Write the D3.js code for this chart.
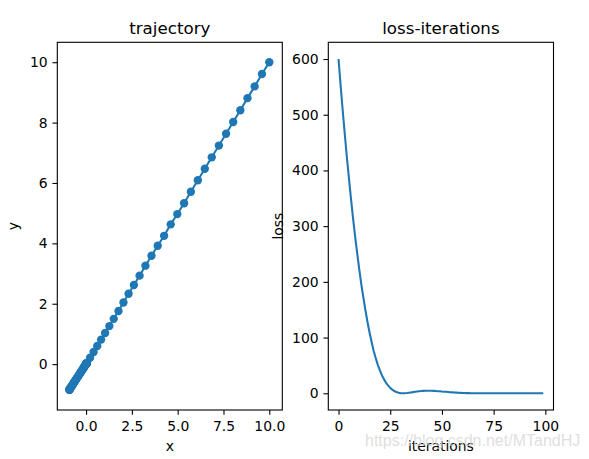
<!DOCTYPE html>
<html>
<head>
<meta charset="utf-8">
<script src="https://cdn.jsdelivr.net/npm/d3@7"></script>
<style>
  body { margin: 0; background: #fff; }
  svg { display: block; }
  text { font-family: "DejaVu Sans", sans-serif; }
</style>
</head>
<body>
<svg id="chart" width="589" height="459"></svg>
<script>
// trajectory of (x, y), one point per iteration
const trajX = [10.00, 9.60, 9.20, 8.81, 8.42, 8.03, 7.64, 7.25, 6.86, 6.48,
  6.10, 5.72, 5.35, 4.98, 4.62, 4.26, 3.91, 3.57, 3.24, 2.92,
  2.61, 2.32, 2.04, 1.77, 1.51, 1.27, 1.04, 0.82, 0.61, 0.41,
  0.22, 0.04, -0.13, -0.28, -0.41, -0.52, -0.62, -0.70, -0.76, -0.81,
  -0.85, -0.88, -0.90, -0.91, -0.91, -0.90, -0.88, -0.86, -0.83, -0.80,
  -0.76, -0.72, -0.68, -0.64, -0.59, -0.55, -0.50, -0.46, -0.41, -0.37,
  -0.33, -0.29, -0.25, -0.21, -0.18, -0.15, -0.12, -0.09, -0.07, -0.05,
  -0.03, -0.02, -0.01, 0.00, 0.01, 0.01, 0.02, 0.02, 0.02, 0.02,
  0.02, 0.02, 0.01, 0.01, 0.01, 0.01, 0.00, 0.00, 0.00, 0.00,
  0.00, 0.00, 0.00, 0.00, 0.00, 0.00, 0.00, 0.00, 0.00, 0.00];
const trajY = [10.00, 9.61, 9.20, 8.81, 8.41, 8.02, 7.63, 7.24, 6.85, 6.47,
  6.09, 5.71, 5.33, 4.97, 4.63, 4.25, 3.92, 3.59, 3.26, 2.93,
  2.62, 2.33, 2.04, 1.76, 1.50, 1.26, 1.03, 0.81, 0.60, 0.40,
  0.21, 0.04, -0.12, -0.26, -0.38, -0.48, -0.57, -0.65, -0.71, -0.76,
  -0.79, -0.82, -0.84, -0.85, -0.85, -0.84, -0.82, -0.80, -0.77, -0.74,
  -0.71, -0.67, -0.63, -0.59, -0.55, -0.51, -0.47, -0.43, -0.38, -0.34,
  -0.31, -0.27, -0.23, -0.20, -0.17, -0.14, -0.11, -0.08, -0.06, -0.04,
  -0.03, -0.02, -0.01, 0.00, 0.01, 0.01, 0.02, 0.02, 0.02, 0.01,
  0.01, 0.01, 0.01, 0.01, 0.01, 0.00, 0.00, 0.00, 0.00, 0.00,
  0.00, 0.00, 0.00, 0.00, 0.00, 0.00, 0.00, 0.00, 0.00, 0.00];

// loss per iteration
const lossValues = [600, 553, 508, 466, 425, 387, 350, 315, 282, 252,
  223, 196, 172, 149, 128, 109, 92, 76, 63, 51,
  41, 32, 25, 18.8, 13.7, 9.7, 6.5, 4.0, 2.2, 1.0,
  0.29, 0.01, 0.09, 0.44, 0.94, 1.5, 2.1, 2.7, 3.2, 3.7,
  4.0, 4.3, 4.5, 4.65, 4.65, 4.5, 4.3, 4.1, 3.8, 3.6,
  3.2, 2.9, 2.6, 2.3, 1.9, 1.7, 1.4, 1.2, 0.94, 0.76,
  0.62, 0.47, 0.35, 0.25, 0.18, 0.13, 0.08, 0.05, 0.03, 0.01,
  0, 0, 0, 0, 0, 0, 0, 0, 0, 0,
  0, 0, 0, 0, 0, 0, 0, 0, 0, 0,
  0, 0, 0, 0, 0, 0, 0, 0, 0, 0];

const trajXTicks = [0, 2.5, 5, 7.5, 10];
const trajYTicks = [0, 2, 4, 6, 8, 10];
const lossXTicks = [0, 25, 50, 75, 100];
const lossYTicks = [0, 100, 200, 300, 400, 500, 600];

const blue = "#1f77b4";
const tickLen = 4.86, tickPad = 4.86;

const svg = d3.select("#chart");

// two panels, matplotlib-like 1x2 subplots
const panels = [
  { left: 57.3, right: 282.3, top: 42.3, bottom: 410, title: "trajectory", xlabel: "x", ylabel: "y", ylabelX: 18 },
  { left: 328.3, right: 553.5, top: 42.3, bottom: 410, title: "loss-iterations", xlabel: "iterations", ylabel: "loss", ylabelX: 282.5 }
];

const scales = {
  tx: d3.scaleLinear().domain([-1.57, 10.71]).range([panels[0].left, panels[0].right]),
  ty: d3.scaleLinear().domain([-1.52, 10.66]).range([panels[0].bottom, panels[0].top]),
  lx: d3.scaleLinear().domain([-4.95, 103.95]).range([panels[1].left, panels[1].right]),
  ly: d3.scaleLinear().domain([-30, 630]).range([panels[1].bottom, panels[1].top])
};

const fmt1 = d3.format(".1f");

function drawAxes(p, xs, ys, xTicks, yTicks, xFmt) {
  const g = svg.append("g");

  const xAxis = g.append("g")
    .attr("transform", `translate(0,${p.bottom})`)
    .call(d3.axisBottom(xs).tickValues(xTicks).tickFormat(xFmt)
      .tickSizeInner(tickLen).tickSizeOuter(0).tickPadding(tickPad));
  xAxis.selectAll("text").attr("dy", "0.81em");

  g.append("g")
    .attr("transform", `translate(${p.left},0)`)
    .call(d3.axisLeft(ys).tickValues(yTicks).tickFormat(d3.format("d"))
      .tickSizeInner(tickLen).tickSizeOuter(0).tickPadding(tickPad));

  g.selectAll(".domain").remove();
  g.selectAll(".tick line").attr("stroke", "#000").attr("stroke-width", 1.1);
  g.selectAll(".tick text")
    .style("font-family", "DejaVu Sans")
    .style("font-size", "13.9px")
    .style("fill", "#000");

  // frame (all four spines)
  g.append("rect")
    .attr("x", p.left).attr("y", p.top)
    .attr("width", p.right - p.left).attr("height", p.bottom - p.top)
    .attr("fill", "none").attr("stroke", "#000").attr("stroke-width", 1.1);

  g.append("text")
    .attr("x", (p.left + p.right) / 2).attr("y", 33.5)
    .attr("text-anchor", "middle")
    .style("font-size", "16.7px")
    .style("fill", "#000")
    .text(p.title);

  g.append("text")
    .attr("x", (p.left + p.right) / 2).attr("y", 451)
    .attr("text-anchor", "middle")
    .style("font-size", "13.9px")
    .style("fill", "#000")
    .text(p.xlabel);

  g.append("text")
    .attr("transform", `translate(${p.ylabelX},${(p.top + p.bottom) / 2}) rotate(-90)`)
    .attr("text-anchor", "middle")
    .style("font-size", "13.9px")
    .style("fill", "#000")
    .text(p.ylabel);
}

// clip paths
const defs = svg.append("defs");
panels.forEach((p, i) => {
  defs.append("clipPath").attr("id", `clip-${i}`)
    .append("rect")
    .attr("x", p.left).attr("y", p.top)
    .attr("width", p.right - p.left).attr("height", p.bottom - p.top);
});

// left: trajectory
const trajData = trajX.map((x, i) => ({ x: x, y: trajY[i] }));
const trajG = svg.append("g").attr("clip-path", "url(#clip-0)");
trajG.append("path")
  .datum(trajData)
  .attr("fill", "none")
  .attr("stroke", blue)
  .attr("stroke-width", 2.08)
  .attr("d", d3.line().x(d => scales.tx(d.x)).y(d => scales.ty(d.y)));
trajG.selectAll("circle")
  .data(trajData)
  .enter().append("circle")
    .attr("cx", d => scales.tx(d.x))
    .attr("cy", d => scales.ty(d.y))
    .attr("r", 4.17)
    .attr("fill", blue);

drawAxes(panels[0], scales.tx, scales.ty, trajXTicks, trajYTicks, fmt1);

// right: loss vs iterations
const lossG = svg.append("g").attr("clip-path", "url(#clip-1)");
lossG.append("path")
  .datum(lossValues)
  .attr("fill", "none")
  .attr("stroke", blue)
  .attr("stroke-width", 2.08)
  .attr("stroke-linejoin", "round")
  .attr("d", d3.line().x((d, i) => scales.lx(i)).y(d => scales.ly(d)));

drawAxes(panels[1], scales.lx, scales.ly, lossXTicks, lossYTicks, d3.format("d"));

// blog watermark baked into the picture (faint, sits over the axis label)
svg.append("text")
  .attr("x", 365).attr("y", 446)
  .style("font-family", "Liberation Sans, Arial, sans-serif")
  .style("font-size", "16px")
  .style("fill", "#d6d6d6")
  .style("fill-opacity", 0.8)
  .text("https://blog.csdn.net/MTandHJ");
</script>
</body>
</html>
